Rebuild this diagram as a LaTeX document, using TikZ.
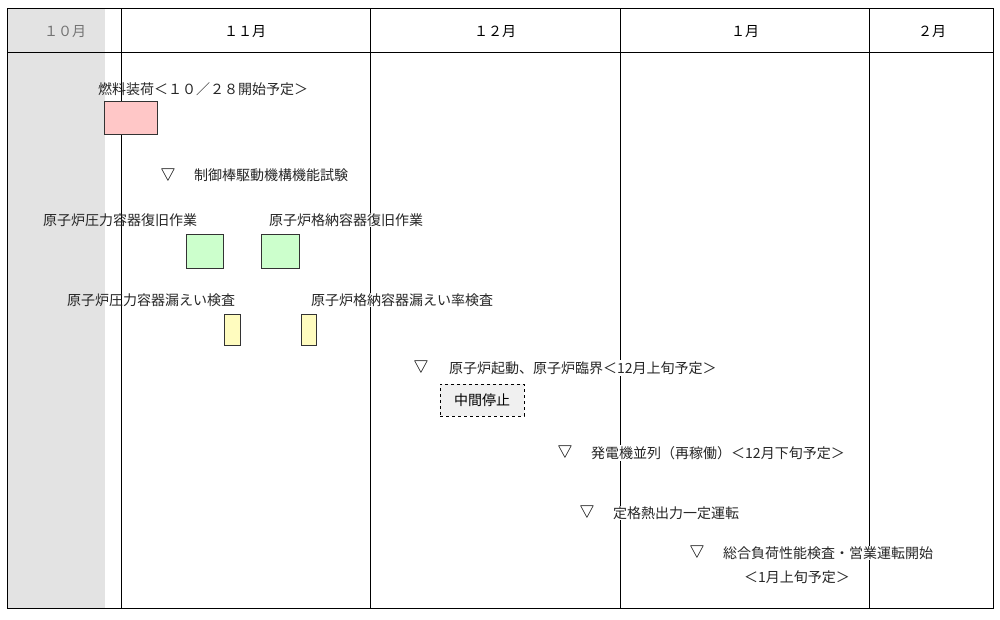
\documentclass[tikz,border=0pt]{standalone}
\usepackage{fontspec}
\setmainfont{Noto Sans CJK JP}
\begin{document}
\begin{tikzpicture}[x=1pt,y=-1pt,
  lbl/.style={fill=white,inner sep=1pt,font=\fontsize{14}{16}\selectfont,text=black!85},
  tri/.style={inner sep=0pt,font=\fontsize{16}{16}\selectfont},
  bar/.style={draw=black!80,line width=0.8pt}]
\useasboundingbox (0,0) rectangle (1000,620);
\fill[black!11] (7,9) rectangle (105,608);
\draw[line width=1pt] (7,9) rectangle (993,608);
\draw[line width=1pt] (7,53) -- (993,53);
\foreach \x in {121,370,620,869} \draw[line width=1pt] (\x,9) -- (\x,608);
\node[font=\fontsize{14}{16}\selectfont,text=black!55] (m10) at (65,32) {１０月};
\node[font=\fontsize{14}{16}\selectfont] (m11) at (245,32) {１１月};
\node[font=\fontsize{14}{16}\selectfont] (m12) at (495,32) {１２月};
\node[font=\fontsize{14}{16}\selectfont] (m1) at (745,32) {１月};
\node[font=\fontsize{14}{16}\selectfont] (m2) at (932,32) {２月};
\node[lbl,fill=none] (fuel) at (203,89) {燃料装荷＜１０／２８開始予定＞};
\draw[bar,fill=red!22] (104,101) rectangle (157,134);
\node[tri] (t1) at (168,173) {$\bigtriangledown$};
\node[lbl,anchor=west] (crd) at (193,175) {制御棒駆動機構機能試験};
\node[lbl,fill=none,anchor=west] (rpv) at (42,220) {原子炉圧力容器復旧作業};
\node[lbl,anchor=west] (pcv) at (268,220) {原子炉格納容器復旧作業};
\draw[bar,fill=green!20] (186,234) rectangle (223,268);
\draw[bar,fill=green!20] (261,234) rectangle (299,268);
\node[lbl,fill=none,anchor=west] (rpvl) at (66,300) {原子炉圧力容器漏えい検査};
\node[lbl,anchor=west] (pcvl) at (310,300) {原子炉格納容器漏えい率検査};
\draw[bar,fill=yellow!25] (224,314) rectangle (240,345);
\draw[bar,fill=yellow!25] (301,314) rectangle (316,345);
\node[tri] (t2) at (421,365) {$\bigtriangledown$};
\node[lbl,anchor=west] (st) at (448,368) {原子炉起動、原子炉臨界＜12月上旬予定＞};
\node[draw,dashed,fill=black!6,minimum width=84pt,minimum height=32pt,font=\fontsize{14}{16}\selectfont] (mid) at (482,400) {中間停止};
\node[tri] (t3) at (565,450) {$\bigtriangledown$};
\node[lbl,anchor=west] (gen) at (590,453) {発電機並列（再稼働）＜12月下旬予定＞};
\node[tri] (t4) at (587,510) {$\bigtriangledown$};
\node[lbl,anchor=west] (rated) at (612,513) {定格熱出力一定運転};
\node[tri] (t5) at (697,550) {$\bigtriangledown$};
\node[lbl,anchor=west] (com) at (722,553) {総合負荷性能検査・営業運転開始};
\node[lbl] (com2) at (797,577) {＜1月上旬予定＞};
\end{tikzpicture}
\end{document}
